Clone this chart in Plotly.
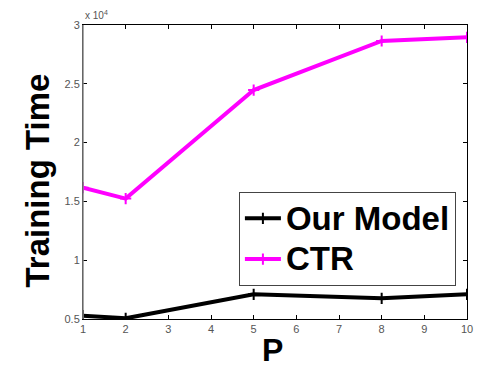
import plotly.graph_objects as go

P = [1, 2, 5, 8, 10]
our_model = [5280, 5060, 7100, 6760, 7100]
ctr = [16170, 15240, 24470, 28640, 28950]
x_ticks = list(range(1, 11))
y_tickvals = [5000, 10000, 15000, 20000, 25000, 30000]
y_ticktext = ["0.5", "1", "1.5", "2", "2.5", "3"]
names = ["Our Model", "CTR"]

FONT = "Arial, Liberation Sans, sans-serif"

def big(s):
    return "<span style='font-size:33px'>" + s + "</span>"

fig = go.Figure()
fig.add_trace(go.Scatter(
    x=P, y=our_model, name=big(names[0]), mode="lines+markers",
    line=dict(color="black", width=4),
    marker=dict(symbol="cross-thin", size=8, color="black",
                line=dict(color="black", width=2)),
))
fig.add_trace(go.Scatter(
    x=P, y=ctr, name=big(names[1]), mode="lines+markers",
    line=dict(color="#ff00ff", width=4),
    marker=dict(symbol="cross-thin", size=8, color="#ff00ff",
                line=dict(color="#ff00ff", width=2)),
))

fig.update_layout(
    width=485, height=367,
    margin=dict(l=83, r=13, t=25, b=48),
    paper_bgcolor="white", plot_bgcolor="white",
    font=dict(family=FONT, color="#555555", size=11),
    showlegend=True,
    legend=dict(
        x=0.406, y=0.432, xanchor="left", yanchor="top",
        bgcolor="white", bordercolor="#444444", borderwidth=1,
        font=dict(family=FONT, size=29, color="black", weight="bold"),
        tracegroupgap=0, itemwidth=36,
    ),
    xaxis=dict(
        range=[1, 10], tickvals=x_ticks, showgrid=False, zeroline=False,
        showline=True, linecolor="black", linewidth=1, mirror="ticks",
        ticks="inside", ticklen=4, tickcolor="black",
        tickfont=dict(size=11, color="#555555"),
    ),
    yaxis=dict(
        range=[5000, 30000], tickvals=y_tickvals, ticktext=y_ticktext,
        showgrid=False, zeroline=False,
        showline=True, linecolor="black", linewidth=1, mirror="ticks",
        ticks="inside", ticklen=4, tickcolor="black",
        tickfont=dict(size=11, color="#555555"),
    ),
    shapes=[dict(type="line", xref="paper", yref="paper", x0=0, x1=0, y0=0, y1=1,
                 line=dict(color="#888888", width=1.5))],
    annotations=[
        dict(text="x 10<sup>4</sup>", xref="paper", yref="paper", x=0, y=1,
             xanchor="left", yanchor="bottom", showarrow=False,
             font=dict(size=10, color="#555555"), yshift=2),
        dict(text="<b>Training Time</b>", xref="paper", yref="paper",
             x=-0.118, y=0.47, xanchor="center", yanchor="middle",
             textangle=-90, showarrow=False,
             font=dict(size=33, color="black", family=FONT)),
        dict(text="<b>P</b>", xref="paper", yref="paper",
             x=0.494, y=-0.105, xanchor="center", yanchor="middle",
             showarrow=False, font=dict(size=32, color="black", family=FONT)),
    ],
)

fig.write_html("out.html")
